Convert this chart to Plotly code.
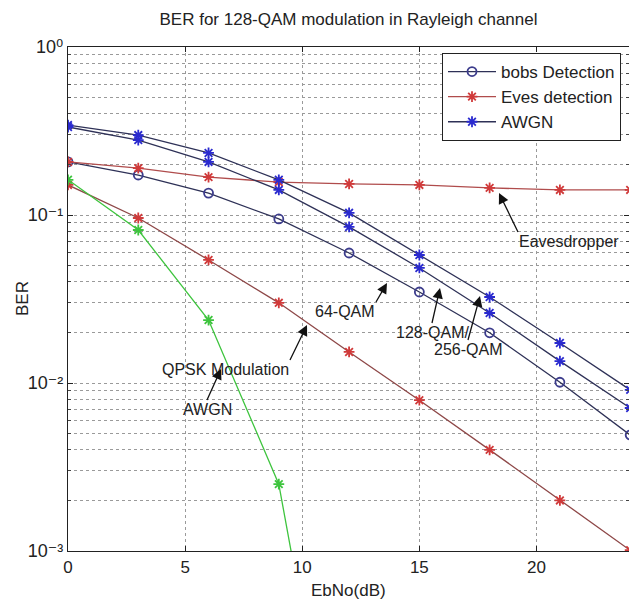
import plotly.graph_objects as go

# ---------------- data ----------------
ebno = [0, 3, 6, 9, 12, 15, 18, 21, 24]
ber_bobs = [0.207, 0.173, 0.135, 0.0947, 0.0594, 0.0348, 0.0199, 0.0101, 0.0049]
ber_eves = [0.207, 0.190, 0.168, 0.157, 0.153, 0.151, 0.145, 0.141, 0.141]
ber_awgn_256 = [0.343, 0.299, 0.234, 0.162, 0.103, 0.0578, 0.0325, 0.0173, 0.0091]
ber_awgn_128 = [0.334, 0.279, 0.207, 0.141, 0.0849, 0.0484, 0.0261, 0.0135, 0.0071]
ber_64qam = [0.151, 0.096, 0.054, 0.030, 0.0153, 0.0079, 0.0040, 0.0020, 0.00101]
ebno_qpsk = [0, 3, 6, 9, 12]
ber_qpsk = [0.162, 0.0814, 0.0237, 0.0025, 0.000013]

x_ticks = [0, 5, 10, 15, 20]
x_ticklabels = ["0", "5", "10", "15", "20"]
y_ticks = [1e-3, 1e-2, 1e-1, 1]
y_ticklabels = ["10\u207b\u00b3", "10\u207b\u00b2", "10\u207b\u00b9", "10\u2070"]
y_minor = [k * 10.0 ** e for e in (-3, -2, -1) for k in range(2, 10)]

title = "BER for 128-QAM modulation in Rayleigh channel"
xlabel = "EbNo(dB)"
ylabel = "BER"

# ---------------- layout geometry ----------------
W, H = 629, 601
L, R, T, B = 68, 0, 47, 50
XMAX = 23.95
PW, PH = W - L - R, H - T - B


def dx(px):
    return (px - L) / PW * XMAX


def dy(py):
    return -(py - T) / PH * 3.0


NAVY = "#2e3157"
CIRC = "#3c3c8c"
BLUE = "#2a2acf"
RED_L1 = "#b04c4c"
RED_L2 = "#8e4848"
RED_M = "#d03a3a"
GREEN = "#3ec43e"
TXT = "#222222"
FONT = "Liberation Sans, Arial, DejaVu Sans, sans-serif"

fig = go.Figure()


def add(x, y, name, lcolor, msym, mcolor, show, msize=9):
    fig.add_trace(go.Scatter(
        x=x, y=y, name=name, mode="lines+markers", showlegend=show,
        line=dict(color=lcolor, width=1.3),
        marker=dict(symbol=msym, size=msize, color=mcolor,
                    line=dict(color=mcolor, width=1.8)),
    ))


add(ebno, ber_bobs, "bobs Detection", NAVY, "circle-open", CIRC, True)
add(ebno, ber_eves, "Eves detection", RED_L1, "asterisk-open", RED_M, True)
add(ebno, ber_awgn_256, "AWGN", NAVY, "asterisk-open", BLUE, True)
add(ebno, ber_awgn_128, "AWGN 128", NAVY, "asterisk-open", BLUE, False)
add(ebno, ber_64qam, "64-QAM", RED_L2, "asterisk-open", RED_M, False)
add(ebno_qpsk, ber_qpsk, "QPSK AWGN", GREEN, "asterisk-open", GREEN, False)

annotations = []
# labelled arrows: text, arrow tip (px), text anchor point (px), anchors
arrows = [
    ("Eavesdropper", (499, 193), (518, 232), "left", "top"),
    ("64-QAM", (387, 283), (376, 302), "right", "top"),
    ("128-QAM/", (440, 288), (432, 323), "center", "top"),
    ("256-QAM", (480, 296), (468, 340), "center", "top"),
    ("QPSK Modulation", (307, 325), (290, 360), "right", "top"),
    ("AWGN", (221, 369), (207, 400), "center", "top"),
]
for txt, (tx, ty), (sx, sy), xa, ya in arrows:
    annotations.append(dict(
        x=dx(tx), y=dy(ty), xref="x", yref="y", text=txt, showarrow=True,
        ax=sx - tx, ay=sy - ty, xanchor=xa, yanchor=ya, borderpad=0,
        arrowhead=2, arrowsize=1.6, arrowwidth=1.3, arrowcolor="#111111",
        font=dict(family=FONT, size=16, color=TXT)))

# axis titles
annotations.append(dict(text=ylabel, x=(22 - L) / PW, y=1 - (299 - T) / PH,
                        xref="paper", yref="paper", showarrow=False,
                        textangle=-90, xanchor="center", yanchor="middle",
                        font=dict(family=FONT, size=17, color=TXT)))
annotations.append(dict(text=xlabel, x=0.5, y=-(590 - (T + PH)) / PH,
                        xref="paper", yref="paper", showarrow=False,
                        xanchor="center", yanchor="middle",
                        font=dict(family=FONT, size=17, color=TXT)))

grid = dict(gridcolor="#9a9a9a", griddash="dot", gridwidth=1)

fig.update_layout(
    width=W, height=H,
    margin=dict(l=L, r=R, t=T, b=B, pad=0),
    paper_bgcolor="white", plot_bgcolor="white",
    font=dict(family=FONT, size=17, color=TXT),
    title=dict(text=title, x=(L + PW / 2) / W, xanchor="center",
               y=1 - 19 / H, yanchor="middle",
               font=dict(family=FONT, size=17, color=TXT)),
    showlegend=True,
    legend=dict(x=(621 - L) / PW, y=1 - (53 - T) / PH, xanchor="right",
                yanchor="top", bgcolor="white", bordercolor=TXT,
                borderwidth=1, tracegroupgap=0, itemwidth=48,
                font=dict(family=FONT, size=17, color=TXT)),
    annotations=annotations,
    xaxis=dict(range=[0, XMAX], tickvals=x_ticks, ticktext=x_ticklabels,
               ticks="inside", ticklen=5, tickcolor=TXT,
               tickfont=dict(size=17),
               showline=True, linecolor=TXT, linewidth=1.2,
               mirror="ticks", showgrid=True, zeroline=False, **grid),
    yaxis=dict(type="log", range=[-3, 0], tickvals=y_ticks,
               ticktext=y_ticklabels, ticks="inside", ticklen=5,
               tickfont=dict(size=18),
               tickcolor=TXT, showline=True, linecolor=TXT,
               linewidth=1.2, mirror="ticks", showgrid=True, zeroline=False,
               minor=dict(tickvals=y_minor, ticks="inside", ticklen=3,
                          tickcolor="#444444", showgrid=True, **grid),
               **grid),
)

fig.write_html("out.html")
